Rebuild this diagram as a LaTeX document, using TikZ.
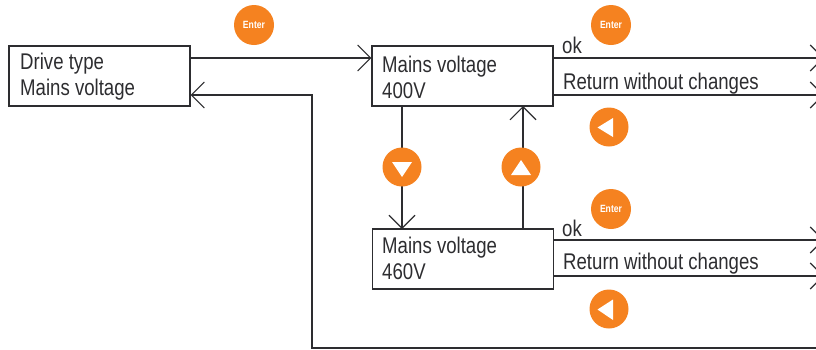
\documentclass[tikz,border=0pt]{standalone}
\usepackage{fontspec}
\setmainfont[FakeStretch=0.82]{Liberation Sans}
\usetikzlibrary{arrows.meta}
\definecolor{btnorange}{RGB}{245,130,32}
\definecolor{inkgray}{RGB}{45,45,48}
\tikzset{
  menubox/.style={draw=inkgray, line width=1.1pt, minimum width=181pt, minimum height=60pt, inner sep=0pt},
  boxtext/.style={text=inkgray, font=\fontsize{22.7}{26}\selectfont, align=left, anchor=west, inner sep=0pt},
  flow/.style={draw=inkgray, line width=1.1pt, -{Straight Barb[length=13pt,width=26pt,line width=1.1pt]}},
  plain/.style={draw=inkgray, line width=1.1pt},
  btn/.style={circle, fill=btnorange, minimum size=39pt, inner sep=0pt},
  enterbtn/.style={btn, minimum size=40pt},
  entertext/.style={text=white, font=\fontsize{10.5}{10.5}\bfseries\selectfont}
}
\begin{document}
\begin{tikzpicture}[x=1pt, y=-1pt]
  \useasboundingbox (0,0) rectangle (816,349);

  % Add boxes
  \node[menubox] (drive) at (99.5,76) {};
  \node[menubox] (v400) at (462.5,76) {};
  \node[menubox] (v460) at (463,259) {};
  \node[boxtext] (drivetext) at (20,77) {Drive type\\Mains voltage};
  \node[boxtext] (v400text) at (382,77) {Mains voltage\\400V};
  \node[boxtext] (v460text) at (382,258) {Mains voltage\\460V};

  % Free ends on the right and the return corners
  \coordinate (v400ok) at (824,58);
  \coordinate (v400ret) at (824,95);
  \coordinate (v460ok) at (824,240);
  \coordinate (v460ret) at (824,276);
  \coordinate (backtop) at (312,95);
  \coordinate (backbot) at (312,348);
  \coordinate (backend) at (816,348);

  % Add connectors
  \draw[flow] (drive.east |- v400ok) -- (v400.west |- v400ok);
  \draw[flow] (v400.east |- v400ok) -- (v400ok);
  \draw[flow] (v400.east |- v400ret) -- (v400ret);
  \draw[flow] (v460.east |- v460ok) -- (v460ok);
  \draw[flow] (v460.east |- v460ret) -- (v460ret);
  \draw[flow] (402,106) -- (402,229);
  \draw[flow] (523,229) -- (523,106);
  \draw[flow] (backend) -- (backbot) -- (backtop) -- (drive.east |- backtop);

  % Add labels
  \node[boxtext] (ok400) at (562,45) {ok};
  \node[boxtext] (ret400) at (563,83.5) {Return without changes};
  \node[boxtext] (ok460) at (562,228) {ok};
  \node[boxtext] (ret460) at (563,263.5) {Return without changes};

  % Add buttons
  \node[enterbtn] (enterA) at (254,25) {};
  \node[entertext] at (enterA) {Enter};
  \node[enterbtn] (enterB) at (611,25) {};
  \node[entertext] at (enterB) {Enter};
  \node[enterbtn] (enterC) at (611,209) {};
  \node[entertext] at (enterC) {Enter};
  \node[btn] (backA) at (609,127) {};
  \fill[white] (597.5,127.5) -- (613,118) -- (613,137) -- cycle;
  \node[btn] (backB) at (609,309) {};
  \fill[white] (597.5,309.5) -- (613,299.5) -- (613,320) -- cycle;
  \node[btn] (down) at (402,167) {};
  \fill[white] (392,162) -- (412,162) -- (402,177) -- cycle;
  \node[btn] (up) at (521,167) {};
  \fill[white] (511,175) -- (531,175) -- (521,160) -- cycle;
\end{tikzpicture}
\end{document}
